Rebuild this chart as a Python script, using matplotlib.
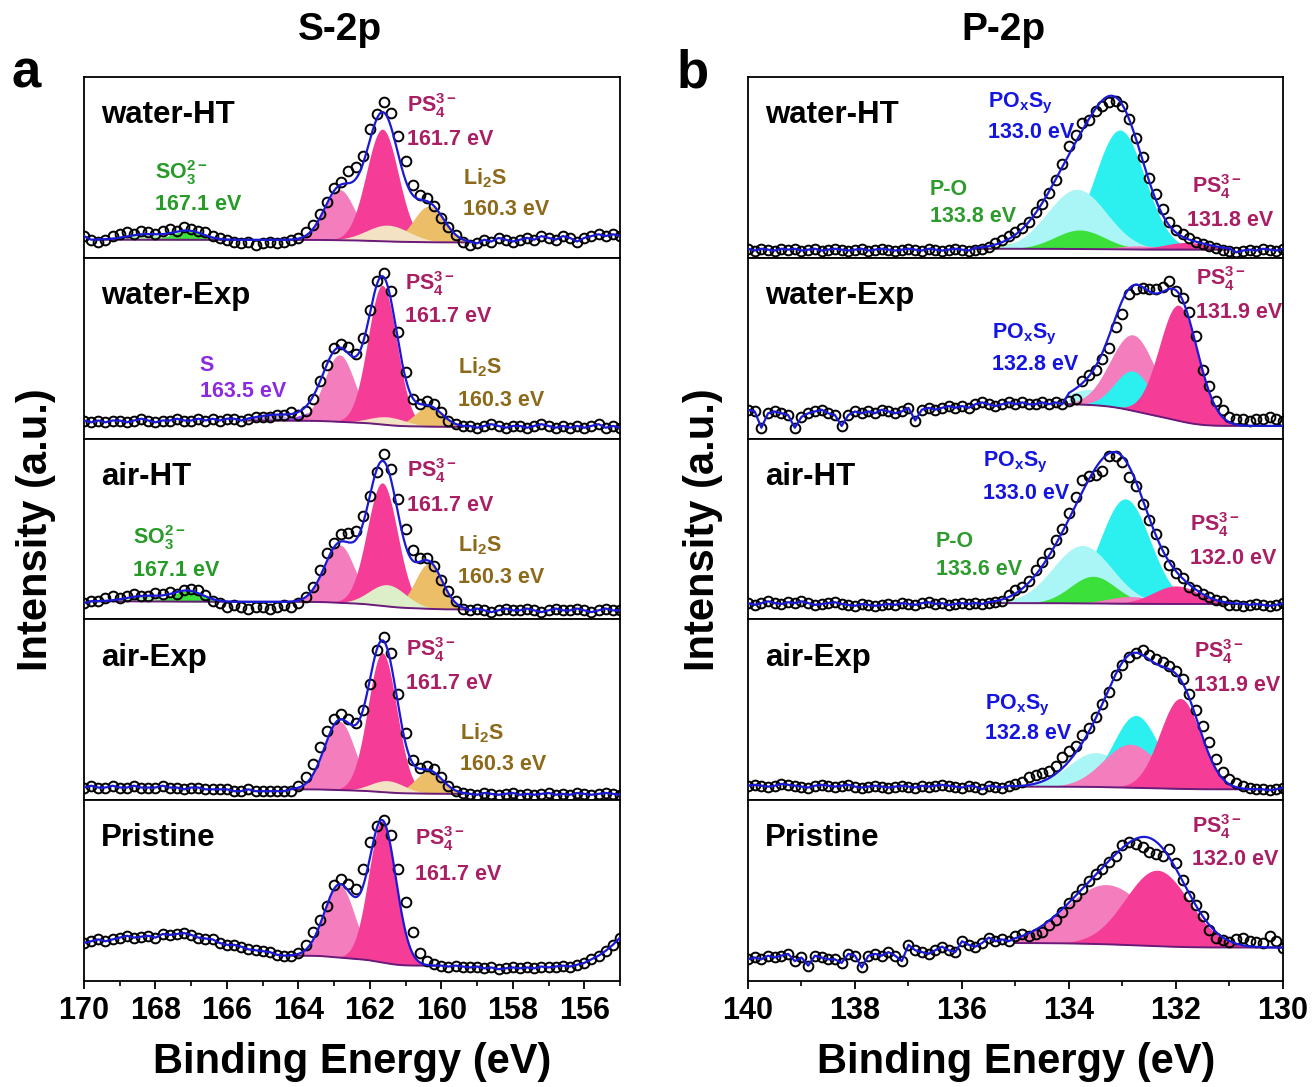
import numpy as np
import matplotlib
matplotlib.use('Agg')
import matplotlib.pyplot as plt
from matplotlib.ticker import MultipleLocator

plt.rcParams['font.family'] = ['Liberation Sans', 'DejaVu Sans']
plt.rcParams['font.weight'] = 'bold'
plt.rcParams['mathtext.fontset'] = 'custom'
plt.rcParams['mathtext.rm'] = 'Liberation Sans:bold'
plt.rcParams['mathtext.bf'] = 'Liberation Sans:bold'
plt.rcParams['mathtext.it'] = 'Liberation Sans:bold'
plt.rcParams['mathtext.default'] = 'bf'

# ---------------- data ----------------
samples = ['water-HT', 'water-Exp', 'air-HT', 'air-Exp', 'Pristine']

# S-2p, 170 -> 155 eV, step 0.2 eV (normalised intensity)
s_energy = np.round(np.arange(170.0, 154.99, -0.2), 2)
s_water_ht = [0.12, 0.10, 0.09, 0.10, 0.12, 0.13, 0.14, 0.13, 0.15, 0.14,
              0.13, 0.15, 0.16, 0.15, 0.17, 0.16, 0.15, 0.14, 0.12, 0.11,
              0.10, 0.09, 0.08, 0.09, 0.07, 0.08, 0.09, 0.08, 0.09, 0.10,
              0.11, 0.145, 0.18, 0.24, 0.31, 0.385, 0.42, 0.48, 0.50, 0.563,
              0.71, 0.795, 0.86, 0.80, 0.675, 0.535, 0.405, 0.35, 0.33, 0.285,
              0.22, 0.173, 0.126, 0.09, 0.07, 0.08, 0.10, 0.09, 0.11, 0.10,
              0.09, 0.10, 0.11, 0.10, 0.12, 0.11, 0.10, 0.12, 0.11, 0.09,
              0.11, 0.12, 0.13, 0.12, 0.13, 0.12]
s_water_exp = [0.10, 0.09, 0.10, 0.09, 0.10, 0.10, 0.09, 0.10, 0.11, 0.10,
               0.09, 0.10, 0.10, 0.11, 0.10, 0.10, 0.11, 0.10, 0.11, 0.10,
               0.11, 0.11, 0.10, 0.11, 0.12, 0.12, 0.12, 0.13, 0.13, 0.145,
               0.13, 0.155, 0.22, 0.32, 0.405, 0.50, 0.525, 0.505, 0.47, 0.555,
               0.71, 0.87, 0.915, 0.815, 0.59, 0.37, 0.22, 0.19, 0.21, 0.19,
               0.145, 0.10, 0.08, 0.07, 0.07, 0.06, 0.07, 0.08, 0.07, 0.06,
               0.07, 0.07, 0.06, 0.07, 0.08, 0.07, 0.06, 0.07, 0.06, 0.07,
               0.06, 0.07, 0.08, 0.06, 0.07, 0.06]
s_air_ht = [0.09, 0.10, 0.10, 0.12, 0.13, 0.12, 0.13, 0.14, 0.13, 0.13,
            0.145, 0.14, 0.15, 0.14, 0.165, 0.17, 0.16, 0.135, 0.10, 0.09,
            0.07, 0.08, 0.07, 0.06, 0.07, 0.07, 0.06, 0.07, 0.08, 0.07,
            0.09, 0.126, 0.18, 0.275, 0.37, 0.425, 0.47, 0.48, 0.49, 0.57,
            0.685, 0.815, 0.915, 0.83, 0.665, 0.50, 0.385, 0.34, 0.34, 0.295,
            0.22, 0.155, 0.10, 0.06, 0.05, 0.06, 0.05, 0.04, 0.05, 0.06,
            0.05, 0.05, 0.06, 0.05, 0.04, 0.05, 0.06, 0.05, 0.05, 0.06,
            0.05, 0.04, 0.05, 0.06, 0.05, 0.05]
s_air_exp = [0.07, 0.08, 0.07, 0.07, 0.08, 0.07, 0.07, 0.08, 0.07, 0.07,
             0.07, 0.08, 0.07, 0.07, 0.06, 0.07, 0.07, 0.06, 0.06, 0.06,
             0.06, 0.05, 0.05, 0.06, 0.05, 0.05, 0.05, 0.05, 0.05, 0.05,
             0.08, 0.126, 0.20, 0.295, 0.385, 0.45, 0.475, 0.45, 0.425, 0.50,
             0.645, 0.83, 0.90, 0.815, 0.59, 0.37, 0.22, 0.18, 0.19, 0.17,
             0.126, 0.08, 0.05, 0.04, 0.035, 0.03, 0.04, 0.035, 0.03, 0.035,
             0.04, 0.03, 0.035, 0.03, 0.035, 0.04, 0.03, 0.035, 0.03, 0.04,
             0.035, 0.03, 0.035, 0.04, 0.035, 0.03]
s_pristine = [0.21, 0.22, 0.23, 0.22, 0.23, 0.24, 0.25, 0.24, 0.245, 0.25,
              0.24, 0.26, 0.255, 0.26, 0.265, 0.255, 0.24, 0.235, 0.23, 0.21,
              0.20, 0.20, 0.19, 0.175, 0.17, 0.165, 0.16, 0.145, 0.14, 0.14,
              0.157, 0.20, 0.27, 0.34, 0.415, 0.53, 0.565, 0.535, 0.51, 0.62,
              0.77, 0.86, 0.89, 0.805, 0.62, 0.435, 0.27, 0.157, 0.11, 0.093,
              0.085, 0.08, 0.085, 0.08, 0.075, 0.08, 0.07, 0.075, 0.065, 0.07,
              0.075, 0.07, 0.075, 0.07, 0.08, 0.075, 0.08, 0.085, 0.08, 0.09,
              0.10, 0.12, 0.14, 0.167, 0.20, 0.24]

# P-2p, 140 -> 130 eV, step 0.125 eV
p_energy = np.round(np.arange(140.0, 129.99, -0.125), 3)
p_water_ht = [0.05, 0.04, 0.05, 0.045, 0.04, 0.05, 0.045, 0.05, 0.04, 0.045,
              0.05, 0.04, 0.045, 0.05, 0.045, 0.04, 0.045, 0.05, 0.04, 0.045,
              0.05, 0.045, 0.04, 0.045, 0.05, 0.045, 0.04, 0.05, 0.045, 0.04,
              0.045, 0.05, 0.045, 0.04, 0.045, 0.05, 0.06, 0.08, 0.10, 0.12,
              0.14, 0.164, 0.20, 0.255, 0.30, 0.36, 0.43, 0.52, 0.62, 0.68,
              0.745, 0.76, 0.81, 0.84, 0.86, 0.865, 0.84, 0.77, 0.66, 0.555,
              0.44, 0.355, 0.27, 0.20, 0.155, 0.13, 0.108, 0.09, 0.075, 0.065,
              0.055, 0.045, 0.035, 0.03, 0.04, 0.045, 0.04, 0.05, 0.045, 0.04,
              0.05]
p_water_exp = [0.16, 0.15, 0.06, 0.14, 0.15, 0.14, 0.13, 0.06, 0.12, 0.14,
               0.15, 0.16, 0.14, 0.13, 0.07, 0.13, 0.15, 0.14, 0.15, 0.14,
               0.16, 0.15, 0.14, 0.15, 0.17, 0.10, 0.16, 0.17, 0.16, 0.17,
               0.18, 0.17, 0.18, 0.17, 0.19, 0.20, 0.19, 0.18, 0.19, 0.20,
               0.19, 0.20, 0.19, 0.19, 0.20, 0.19, 0.20, 0.19, 0.21, 0.22,
               0.32, 0.35, 0.38, 0.44, 0.50, 0.62, 0.69, 0.80, 0.83, 0.835,
               0.825, 0.83, 0.84, 0.87, 0.815, 0.78, 0.70, 0.57, 0.38, 0.29,
               0.21, 0.16, 0.12, 0.11, 0.11, 0.10, 0.11, 0.11, 0.12, 0.11,
               0.10]
p_air_ht = [0.09, 0.08, 0.09, 0.10, 0.09, 0.085, 0.095, 0.09, 0.10, 0.09,
            0.08, 0.085, 0.09, 0.095, 0.085, 0.08, 0.075, 0.085, 0.08, 0.075,
            0.08, 0.085, 0.08, 0.09, 0.085, 0.08, 0.09, 0.095, 0.085, 0.09,
            0.08, 0.085, 0.09, 0.085, 0.09, 0.085, 0.09, 0.095, 0.10, 0.136,
            0.16, 0.18, 0.21, 0.275, 0.32, 0.37, 0.44, 0.50, 0.59, 0.675,
            0.77, 0.795, 0.80, 0.82, 0.905, 0.905, 0.87, 0.79, 0.74, 0.64,
            0.55, 0.47, 0.38, 0.30, 0.257, 0.23, 0.18, 0.16, 0.14, 0.126,
            0.11, 0.10, 0.08, 0.08, 0.075, 0.08, 0.085, 0.08, 0.075, 0.08,
            0.09]
p_air_exp = [0.08, 0.085, 0.08, 0.075, 0.08, 0.09, 0.085, 0.08, 0.075, 0.07,
             0.08, 0.085, 0.08, 0.075, 0.08, 0.085, 0.075, 0.07, 0.075, 0.08,
             0.075, 0.07, 0.075, 0.08, 0.075, 0.07, 0.08, 0.075, 0.08, 0.085,
             0.08, 0.075, 0.07, 0.08, 0.075, 0.06, 0.08, 0.075, 0.07, 0.08,
             0.09, 0.10, 0.126, 0.14, 0.15, 0.16, 0.19, 0.24, 0.27, 0.30,
             0.36, 0.40, 0.46, 0.53, 0.60, 0.69, 0.75, 0.79, 0.815, 0.83,
             0.805, 0.78, 0.765, 0.74, 0.715, 0.67, 0.59, 0.50, 0.41, 0.32,
             0.23, 0.155, 0.115, 0.095, 0.08, 0.07, 0.06, 0.06, 0.055, 0.06,
             0.07]
p_pristine = [0.12, 0.13, 0.12, 0.14, 0.13, 0.14, 0.15, 0.11, 0.13, 0.085,
              0.14, 0.13, 0.12, 0.12, 0.10, 0.15, 0.14, 0.075, 0.14, 0.15,
              0.14, 0.16, 0.14, 0.11, 0.20, 0.17, 0.16, 0.15, 0.17, 0.19,
              0.17, 0.16, 0.22, 0.20, 0.19, 0.21, 0.24, 0.22, 0.23, 0.22,
              0.25, 0.26, 0.25, 0.26, 0.27, 0.31, 0.34, 0.38, 0.43, 0.47,
              0.51, 0.555, 0.59, 0.62, 0.66, 0.69, 0.75, 0.77, 0.755, 0.74,
              0.715, 0.70, 0.69, 0.73, 0.65, 0.56, 0.47, 0.42, 0.36, 0.28,
              0.24, 0.225, 0.215, 0.23, 0.24, 0.22, 0.215, 0.21, 0.25, 0.22,
              0.18]

# fitted components: kind, centre (eV), height above background, FWHM (eV)
s_water_ht_fit = dict(kind=['so3b', 'so3', 'ps4b', 'ps4', 'li2s', 'li2sb'],
                      center=[168.3, 167.1, 162.85, 161.65, 160.35, 161.5],
                      height=[0.03, 0.05, 0.28, 0.62, 0.20, 0.09],
                      fwhm=[1.2, 1.0, 1.0, 1.05, 1.0, 1.4])
s_water_exp_fit = dict(kind=['sb', 's', 'ps4b', 'ps4', 'li2s', 'li2sb'],
                       center=[164.7, 163.4, 162.85, 161.65, 160.35, 161.5],
                       height=[0.03, 0.055, 0.37, 0.77, 0.11, 0.045],
                       fwhm=[1.2, 1.2, 1.0, 0.95, 0.9, 1.2])
s_air_ht_fit = dict(kind=['so3b', 'so3', 'ps4b', 'ps4', 'li2s', 'li2sb2'],
                    center=[168.3, 167.1, 162.85, 161.65, 160.35, 161.5],
                    height=[0.03, 0.06, 0.32, 0.68, 0.25, 0.12],
                    fwhm=[1.2, 1.0, 1.0, 1.0, 0.9, 1.2])
s_air_exp_fit = dict(kind=['ps4b', 'ps4', 'li2s', 'li2sb'],
                     center=[162.85, 161.65, 160.35, 161.5],
                     height=[0.38, 0.77, 0.125, 0.065],
                     fwhm=[1.0, 0.95, 0.9, 1.1])
s_pristine_fit = dict(kind=['ps4b', 'ps4'],
                      center=[162.85, 161.65],
                      height=[0.40, 0.78],
                      fwhm=[1.0, 0.9])

p_water_ht_fit = dict(kind=['pob', 'pos', 'posb', 'po', 'ps4b', 'ps4'],
                      center=[134.6, 133.05, 133.85, 133.8, 132.7, 131.8],
                      height=[0.05, 0.66, 0.33, 0.105, 0.02, 0.04],
                      fwhm=[1.2, 1.1, 1.3, 1.1, 1.0, 1.0])
p_water_exp_fit = dict(kind=['posb', 'ps4b', 'pos', 'ps4'],
                       center=[133.6, 132.8, 132.8, 131.95],
                       height=[0.085, 0.42, 0.22, 0.64],
                       fwhm=[1.0, 1.0, 0.8, 0.85])
p_air_ht_fit = dict(kind=['pob', 'pos', 'posb', 'po', 'ps4b', 'ps4'],
                    center=[134.4, 132.95, 133.75, 133.55, 132.85, 132.0],
                    height=[0.065, 0.58, 0.32, 0.15, 0.04, 0.10],
                    fwhm=[1.1, 1.1, 1.3, 1.0, 1.0, 1.0])
p_air_exp_fit = dict(kind=['posb', 'pos', 'ps4b', 'ps4'],
                     center=[133.5, 132.75, 132.85, 131.92],
                     height=[0.19, 0.40, 0.24, 0.50],
                     fwhm=[1.2, 1.0, 1.2, 0.9])
p_pristine_fit = dict(kind=['ps4b', 'ps4'],
                      center=[133.3, 132.35],
                      height=[0.33, 0.42],
                      fwhm=[1.8, 1.4])

# fit window (low, high eV) and background level at (high, low) end
s_windows = [(159.2, 169.6), (159.4, 165.4), (159.3, 169.8), (159.4, 164.2), (160.2, 164.2)]
s_bg = [(0.10, 0.085), (0.10, 0.065), (0.10, 0.055), (0.06, 0.035), (0.14, 0.085)]
p_windows = [(131.0, 135.75), (130.0, 134.0), (130.7, 135.5), (130.5, 135.0), (130.0, 135.0)]
p_bg = [(0.05, 0.045), (0.19, 0.07), (0.09, 0.085), (0.075, 0.06), (0.21, 0.185)]

# peak labels per sample: (text, colour key, x, y) in axes fraction
PS4 = r'PS$_4^{3-}$'
LI2S = r'Li$_2$S'
SO3 = r'SO$_3^{2-}$'
POS = r'PO$_x$S$_y$'
s_labels = [
    [(PS4, 'ps4', 0.603, 0.806), ('161.7 eV', 'ps4', 0.603, 0.624),
     (LI2S, 'li2s', 0.707, 0.408), ('160.3 eV', 'li2s', 0.707, 0.237),
     (SO3, 'so3', 0.132, 0.436), ('167.1 eV', 'so3', 0.132, 0.264)],
    [(PS4, 'ps4', 0.599, 0.823), ('161.7 eV', 'ps4', 0.599, 0.646),
     ('S', 's', 0.216, 0.375), ('163.5 eV', 's', 0.216, 0.231),
     (LI2S, 'li2s', 0.698, 0.358), ('160.3 eV', 'li2s', 0.698, 0.181)],
    [(PS4, 'ps4', 0.603, 0.790), ('161.7 eV', 'ps4', 0.603, 0.602),
     (LI2S, 'li2s', 0.698, 0.375), ('160.3 eV', 'li2s', 0.698, 0.204),
     (SO3, 'so3', 0.091, 0.419), ('167.1 eV', 'so3', 0.091, 0.242)],
    [(PS4, 'ps4', 0.601, 0.795), ('161.7 eV', 'ps4', 0.601, 0.613),
     (LI2S, 'li2s', 0.701, 0.336), ('160.3 eV', 'li2s', 0.701, 0.165)],
    [(PS4, 'ps4', 0.618, 0.751), ('161.7 eV', 'ps4', 0.618, 0.558)],
]
p_labels = [
    [(POS, 'pos', 0.448, 0.834), ('133.0 eV', 'pos', 0.448, 0.663),
     ('P-O', 'po', 0.340, 0.347), ('133.8 eV', 'po', 0.340, 0.198),
     (PS4, 'ps4', 0.829, 0.358), ('131.8 eV', 'ps4', 0.821, 0.176)],
    [(POS, 'pos', 0.456, 0.552), ('132.8 eV', 'pos', 0.456, 0.380),
     (PS4, 'ps4', 0.838, 0.851), ('131.9 eV', 'ps4', 0.838, 0.668)],
    [(POS, 'pos', 0.439, 0.845), ('133.0 eV', 'pos', 0.439, 0.668),
     ('P-O', 'po', 0.351, 0.403), ('133.6 eV', 'po', 0.351, 0.248),
     (PS4, 'ps4', 0.826, 0.491), ('132.0 eV', 'ps4', 0.826, 0.309)],
    [(POS, 'pos', 0.443, 0.502), ('132.8 eV', 'pos', 0.443, 0.336),
     (PS4, 'ps4', 0.834, 0.784), ('131.9 eV', 'ps4', 0.834, 0.602)],
    [(PS4, 'ps4', 0.830, 0.817), ('132.0 eV', 'ps4', 0.830, 0.640)],
]

# ---------------- styles ----------------
COMP_COLORS = {'ps4': '#F53C96', 'ps4b': '#F47DBE', 'li2s': '#ECBE68',
               'li2sb': '#F3E2C4', 'li2sb2': '#DDEFC8', 'so3': '#3BE03B',
               'so3b': '#AEEBAE', 's': '#9646F0', 'sb': '#C9A6F5',
               'pos': '#2CF0F0', 'posb': '#AAF5F5', 'po': '#3BE03B',
               'pob': '#AEEFAE'}
TEXT_COLORS = {'ps4': '#AA1E63', 'li2s': '#8C6A1A', 'so3': '#279B27',
               's': '#8A2BE2', 'pos': '#1515E0', 'po': '#2E9B2E'}
BG_COLOR = '#6A1B7A'
FIT_COLOR = '#1A1AD6'


def gauss(x, c, h, w):
    s = w / 2.3548
    return h * np.exp(-(x - c) ** 2 / (2 * s ** 2))


def draw_spectrum(ax, energy, counts, fit, window, bg_ends):
    energy = np.asarray(energy)
    counts = np.asarray(counts)
    lo, hi = window
    xf = np.linspace(lo, hi, 500)
    comps = [gauss(xf, c, h, w) for c, h, w in zip(fit['center'], fit['height'], fit['fwhm'])]
    total = np.sum(comps, axis=0)
    # Shirley-like background
    cum = np.concatenate([[0], np.cumsum((total[1:] + total[:-1]) / 2 * np.diff(xf))])
    bg = bg_ends[1] + (bg_ends[0] - bg_ends[1]) * cum / cum[-1]
    for kind, comp in zip(fit['kind'], comps):
        ax.fill_between(xf, bg, bg + comp, color=COMP_COLORS[kind], lw=0, zorder=1)
    ax.plot(xf, bg, color=BG_COLOR, lw=1.4, zorder=2)
    ax.plot(energy, counts, 'o', mfc='none', mec='black', ms=7, mew=1.4, zorder=3)
    env = bg + total
    left = energy > hi
    right = energy < lo
    lx = np.concatenate([energy[left], xf[::-1], energy[right]])
    ly = np.concatenate([counts[left], env[::-1], counts[right]])
    ax.plot(lx, ly, color=FIT_COLOR, lw=1.6, zorder=4)


fig = plt.figure(figsize=(13.12, 10.87), dpi=100)
W, H = 1312.0, 1087.0
top_px, sub_h = 77.0, 180.8

s_data = [s_water_ht, s_water_exp, s_air_ht, s_air_exp, s_pristine]
s_fits = [s_water_ht_fit, s_water_exp_fit, s_air_ht_fit, s_air_exp_fit, s_pristine_fit]
p_data = [p_water_ht, p_water_exp, p_air_ht, p_air_exp, p_pristine]
p_fits = [p_water_ht_fit, p_water_exp_fit, p_air_ht_fit, p_air_exp_fit, p_pristine_fit]

panels = [
    (84, 536, s_energy, s_data, s_fits, s_windows, s_bg, s_labels, (170, 155), range(170, 155, -2)),
    (748, 535, p_energy, p_data, p_fits, p_windows, p_bg, p_labels, (140, 130), range(140, 129, -2)),
]

for x0, wpx, energy, datas, fits, windows, bgs, labels, xlim, ticks in panels:
    for i in range(5):
        bottom_px = top_px + sub_h * (i + 1)
        ax = fig.add_axes([x0 / W, 1 - bottom_px / H, wpx / W, sub_h / H])
        draw_spectrum(ax, energy, datas[i], fits[i], windows[i], bgs[i])
        ax.set_xlim(*xlim)
        ax.set_ylim(0, 1)
        ax.set_yticks([])
        for sp in ax.spines.values():
            sp.set_linewidth(1.3)
        ax.text(0.032, 0.745, samples[i], transform=ax.transAxes, fontsize=22.5,
                ha='left', va='baseline', color='black')
        for txt, key, tx, ty in labels[i]:
            ax.text(tx, ty, txt, transform=ax.transAxes, fontsize=15.5,
                    ha='left', va='baseline', color=TEXT_COLORS[key])
        if i < 4:
            ax.tick_params(axis='x', which='both', bottom=False, labelbottom=False)
        else:
            ax.set_xticks(list(ticks), [str(t) for t in ticks], fontsize=22, fontweight='bold')
            ax.xaxis.set_minor_locator(MultipleLocator(1))
            ax.tick_params(axis='x', which='major', direction='out', length=6, width=1.3, pad=5)
            ax.tick_params(axis='x', which='minor', direction='out', length=3.5, width=1.2)

# titles, panel letters, axis labels
fig.text(340 / W, 1 - 30 / H, 'S-2p', fontsize=28, ha='center', va='center')
fig.text(1003 / W, 1 - 30 / H, 'P-2p', fontsize=28, ha='center', va='center')
fig.text(26 / W, 1 - 88 / H, 'a', fontsize=38, ha='center', va='baseline')
fig.text(693 / W, 1 - 88 / H, 'b', fontsize=38, ha='center', va='baseline')
fig.text(36 / W, 1 - 530 / H, 'Intensity (a.u.)', fontsize=30, rotation=90,
         ha='center', va='center')
fig.text(703 / W, 1 - 530 / H, 'Intensity (a.u.)', fontsize=30, rotation=90,
         ha='center', va='center')
fig.text(352 / W, 1 - 1062 / H, 'Binding Energy (eV)', fontsize=30, ha='center', va='center')
fig.text(1016 / W, 1 - 1062 / H, 'Binding Energy (eV)', fontsize=30, ha='center', va='center')

fig.savefig('out.png', dpi=100)
